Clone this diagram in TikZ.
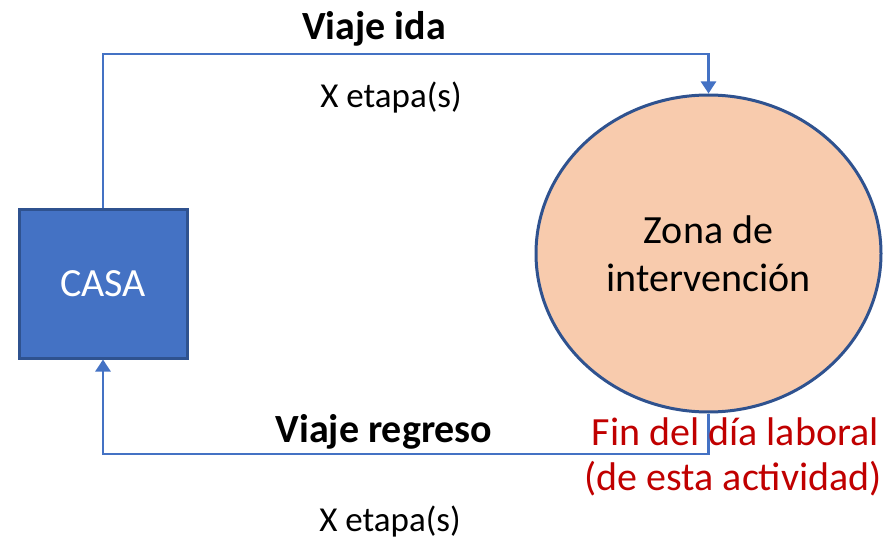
\documentclass[tikz,border=0pt]{standalone}
\usepackage{fontspec}
\setmainfont{Carlito}
\usetikzlibrary{arrows.meta,shapes.geometric}
\definecolor{lineblue}{HTML}{4472C4}
\definecolor{darkblue}{HTML}{2F528F}
\definecolor{peach}{HTML}{F8CBAD}
\definecolor{darkred}{HTML}{C00000}
\tikzset{
  conn/.style={draw=lineblue,line width=2.6pt,-{Triangle[width=15pt,length=12pt]}},
  casabox/.style={rectangle,fill=lineblue,draw=darkblue,line width=3pt,minimum width=168pt,minimum height=148pt,text=white,font=\fontsize{40}{48}\selectfont},
  zonaell/.style={ellipse,fill=peach,draw=darkblue,line width=3pt,minimum width=345pt,minimum height=317pt,inner sep=0pt,align=center,font=\fontsize{40}{48}\selectfont},
  boldlbl/.style={inner sep=0pt,anchor=base,font=\fontsize{40}{48}\selectfont\bfseries},
  smalllbl/.style={inner sep=0pt,anchor=base,font=\fontsize{35}{42}\selectfont},
  redlbl/.style={inner sep=0pt,anchor=base east,text=darkred,font=\fontsize{40}{48}\selectfont}
}
\begin{document}
\begin{tikzpicture}[x=1pt,y=-1pt]
\useasboundingbox (0,0) rectangle (889,540);
\node[casabox] (casa) at (103,284) {CASA};
\node[zonaell] (zona) at (708.5,253.5) {Zona de\\intervención};
\coordinate (top) at (0,54);
\coordinate (bot) at (0,454);
\draw[conn] (casa.north) -- (casa.north |- top) -| (zona.north);
\draw[conn] (zona.south) -- (zona.south |- bot) -| (casa.south);
\node[boldlbl] (ida) at (374,40) {Viaje ida};
\node[smalllbl] (et1) at (391,108) {X etapa(s)};
\node[boldlbl] (reg) at (384,442) {Viaje regreso};
\node[smalllbl] (et2) at (390,531) {X etapa(s)};
\node[redlbl] (fin1) at (879,445) {Fin del día laboral};
\node[redlbl] (fin2) at (882,490) {(de esta actividad)};
\end{tikzpicture}
\end{document}
